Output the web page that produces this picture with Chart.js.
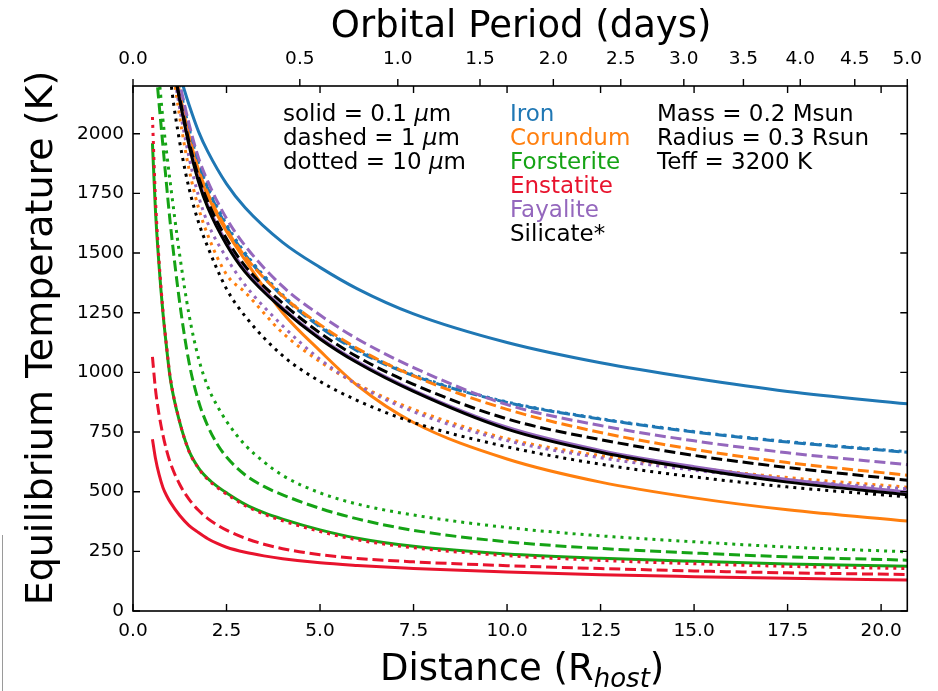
<!DOCTYPE html>
<html><head><meta charset="utf-8">
<script src="https://cdn.jsdelivr.net/npm/chart.js@4.4.1/dist/chart.umd.min.js"></script>
<style>html,body{margin:0;padding:0;background:#fff;}canvas{display:block;}</style>
</head><body>
<canvas id="c" width="938" height="691"></canvas>
<script>
// ---- axis ticks ----
const distTicks = [0, 2.5, 5, 7.5, 10, 12.5, 15, 17.5, 20];
const tempTicks = [0, 250, 500, 750, 1000, 1250, 1500, 1750, 2000];
const periodTicks = [0, 0.5, 1, 1.5, 2, 2.5, 3, 3.5, 4, 4.5, 5];
const distMax = 20.7;      // distance (R_host) at right edge
const periodAtMax = 5.0;   // orbital period (days) at right edge
const tempMax = 2200;

// ---- distances (R_host) ----
const nearX = [0.52, 0.6, 0.7, 0.8, 0.9, 1, 1.25, 1.5, 1.75, 2, 2.25, 2.5, 3, 3.5, 4, 5, 6, 7.5, 10, 12.5, 15, 17.5, 20.7];
const forstDashX = [0.62, 0.7, 0.8, 0.9, 1, 1.25, 1.5, 1.75, 2, 2.25, 2.5, 3, 3.5, 4, 5, 6, 7.5, 10, 12.5, 15, 17.5, 20.7];
const forstDotX = [0.7, 0.8, 0.9, 1, 1.25, 1.5, 1.75, 2, 2.25, 2.5, 3, 3.5, 4, 5, 6, 7.5, 10, 12.5, 15, 17.5, 20.7];
const farX = [1.0, 1.1, 1.2, 1.3, 1.5, 1.75, 2, 2.5, 3, 4, 5, 6, 7.5, 10, 12.5, 15, 17.5, 20.7];

// ---- equilibrium temperatures (K) ----
const ironSolid   = [null, null, null, 2220, 2120, 2010, 1925, 1790, 1690, 1545, 1440, 1350, 1245, 1125, 1040, 975, 920, 868];
const ironDashed  = [null, null, 2240, 2160, 2020, 1875, 1770, 1612, 1493, 1318, 1190, 1090, 986, 874, 804, 750, 708, 665];
const ironDotted  = [null, null, 2250, 2170, 2030, 1885, 1780, 1620, 1500, 1325, 1195, 1095, 990, 876, 806, 752, 710, 667];
const corSolid    = [null, null, 2210, 2130, 1980, 1840, 1740, 1590, 1470, 1250, 1090, 945, 790, 637, 540, 474, 424, 377];
const corDashed   = [null, 2280, 2200, 2125, 1990, 1850, 1750, 1600, 1485, 1320, 1200, 1100, 985, 845, 748, 677, 622, 569];
const corDotted   = [null, 2230, 2120, 2020, 1850, 1690, 1575, 1410, 1335, 1165, 1045, 950, 845, 722, 651, 600, 559, 519];
const forSolid    = [1960, 1680, 1440, 1250, 1100, 970, 790, 670, 600, 555, 522, 495, 447, 412, 385, 340, 305, 271, 239, 221, 208, 197, 188];
const forDashed   = [2260, 2120, 1950, 1780, 1620, 1290, 1040, 880, 775, 700, 645, 570, 522, 487, 430, 386, 338, 290, 262, 243, 227, 213];
const forDotted   = [2230, 2060, 1920, 1790, 1490, 1240, 1060, 940, 860, 795, 695, 625, 568, 495, 448, 402, 350, 315, 290, 268, 248];
const ensSolid    = [720, 640, 570, 518, 483, 455, 400, 358, 329, 303, 283, 267, 246, 231, 219, 202, 191, 178, 163, 152, 144, 137, 130];
const ensDashed   = [1065, 930, 820, 738, 672, 620, 530, 468, 422, 387, 361, 339, 305, 280, 261, 236, 220, 206, 190, 178, 168, 160, 153];
const ensDotted   = [2070, 1730, 1460, 1260, 1105, 975, 792, 668, 598, 551, 518, 490, 441, 406, 378, 333, 298, 265, 232, 212, 198, 187, 178];
const faySolid    = [null, 2280, 2190, 2110, 1960, 1810, 1700, 1545, 1428, 1270, 1145, 1045, 925, 770, 673, 605, 551, 499];
const fayDashed   = [null, null, 2250, 2175, 2040, 1900, 1800, 1645, 1530, 1360, 1240, 1140, 1020, 865, 777, 713, 663, 613];
const fayDotted   = [null, 2250, 2150, 2060, 1900, 1740, 1625, 1480, 1365, 1195, 1055, 948, 835, 714, 642, 590, 549, 512];
const silSolid    = [null, 2270, 2180, 2100, 1950, 1800, 1690, 1535, 1420, 1265, 1140, 1040, 920, 762, 665, 596, 540, 487];
const silDashed   = [null, 2270, 2185, 2110, 1965, 1820, 1715, 1560, 1445, 1290, 1165, 1065, 950, 805, 718, 652, 601, 548];
const silDotted   = [2230, 2110, 2010, 1920, 1770, 1630, 1525, 1350, 1235, 1070, 962, 882, 790, 688, 615, 562, 520, 478];

// ---- labels / colours ----
const materials = ['Iron', 'Corundum', 'Forsterite', 'Enstatite', 'Fayalite', 'Silicate*'];
const matColors = ['#1f77b4', '#ff7f0e', '#15a315', '#e8132d', '#9467bd', '#000000'];
const sizeNotes = ['solid = 0.1 ', 'dashed = 1 ', 'dotted = 10 '];
const starNotes = ['Mass = 0.2 Msun', 'Radius = 0.3 Rsun', 'Teff = 3200 K'];

const styles = { solid: [], dashed: [11, 4.8], dotted: [3, 5] };
const pts = (xs, ys) => xs.map((x, i) => ({ x: x, y: ys[i] }));

const seriesDefs = [
  [farX, ironSolid, 0, 'solid'], [farX, ironDashed, 0, 'dashed'], [farX, ironDotted, 0, 'dotted'],
  [farX, corSolid, 1, 'solid'], [farX, corDashed, 1, 'dashed'], [farX, corDotted, 1, 'dotted'],
  [nearX, forSolid, 2, 'solid'], [forstDashX, forDashed, 2, 'dashed'], [forstDotX, forDotted, 2, 'dotted'],
  [nearX, ensSolid, 3, 'solid'], [nearX, ensDashed, 3, 'dashed'], [nearX, ensDotted, 3, 'dotted'],
  [farX, faySolid, 4, 'solid'], [farX, fayDashed, 4, 'dashed'], [farX, fayDotted, 4, 'dotted'],
  [farX, silSolid, 5, 'solid'], [farX, silDashed, 5, 'dashed'], [farX, silDotted, 5, 'dotted']
];
const N = seriesDefs.length;
const datasets = seriesDefs.map((d, i) => ({
  label: materials[d[2]] + ' ' + d[3],
  data: pts(d[0], d[1]).filter(p => p.y !== null),
  borderColor: matColors[d[2]],
  borderWidth: 3,
  borderDash: styles[d[3]],
  borderCapStyle: 'butt',
  pointRadius: 0,
  fill: false,
  cubicInterpolationMode: 'monotone',
  order: N - i
}));

const FONT = 'DejaVu Sans';
const periodToDist = p => distMax * Math.pow(p / periodAtMax, 2 / 3);

function drawRich(ctx, segs, x, y, align) {
  let w = 0;
  segs.forEach(s => { ctx.font = s.f; w += ctx.measureText(s.t).width; });
  let cx = align === 'center' ? x - w / 2 : x;
  segs.forEach(s => {
    ctx.font = s.f; ctx.fillStyle = s.c || '#000';
    ctx.fillText(s.t, cx, y + (s.dy || 0));
    cx += ctx.measureText(s.t).width;
  });
}

const framePlugin = {
  id: 'frame',
  beforeDraw(chart) {
    const ctx = chart.ctx;
    ctx.save();
    ctx.fillStyle = '#fff';
    ctx.fillRect(0, 0, chart.width, chart.height);
    ctx.strokeStyle = '#9a9a9a';
    ctx.lineWidth = 1;
    ctx.beginPath(); ctx.moveTo(2.5, 535); ctx.lineTo(2.5, 691); ctx.stroke();
    ctx.restore();
  },
  afterDatasetsDraw(chart) {
    const { ctx, chartArea: a, scales } = chart;
    ctx.save();
    ctx.strokeStyle = '#000';
    ctx.lineWidth = 1.6;
    ctx.strokeRect(a.left, a.top, a.right - a.left, a.bottom - a.top);
    const tl = 7;
    ctx.lineWidth = 1.4;
    ctx.beginPath();
    scales.x.ticks.forEach(t => {
      const px = scales.x.getPixelForValue(t.value);
      ctx.moveTo(px, a.bottom); ctx.lineTo(px, a.bottom - tl);
      ctx.moveTo(px, a.top); ctx.lineTo(px, a.top + tl);
    });
    scales.y.ticks.forEach(t => {
      const py = scales.y.getPixelForValue(t.value);
      ctx.moveTo(a.left, py); ctx.lineTo(a.left + tl, py);
      ctx.moveTo(a.right, py); ctx.lineTo(a.right - tl, py);
    });
    scales.x2.ticks.forEach(t => {
      const px = scales.x2.getPixelForValue(t.value);
      ctx.moveTo(px, a.top); ctx.lineTo(px, a.top - tl);
    });
    ctx.stroke();

    // axis titles
    ctx.fillStyle = '#000';
    ctx.textBaseline = 'alphabetic';
    ctx.textAlign = 'left';
    const cxm = (a.left + a.right) / 2;
    drawRich(ctx, [{ t: 'Orbital Period (days)', f: '37px ' + FONT }], cxm + 1, 37, 'center');
    drawRich(ctx, [
      { t: 'Distance (R', f: '37px ' + FONT },
      { t: 'host', f: 'italic 26px ' + FONT, dy: 7 },
      { t: ')', f: '37px ' + FONT }
    ], cxm + 2, 680, 'center');
    ctx.save();
    ctx.translate(52, 338);
    ctx.rotate(-Math.PI / 2);
    drawRich(ctx, [{ t: 'Equilibrium Temperature (K)', f: '38px ' + FONT }], 0, 0, 'center');
    ctx.restore();

    // annotations
    const f = '23px ' + FONT, fi = 'italic 23px ' + FONT;
    sizeNotes.forEach((s, i) => {
      drawRich(ctx, [{ t: s, f: f }, { t: 'μ', f: fi }, { t: 'm', f: f }], 283, 121 + 24 * i, 'left');
    });
    materials.forEach((m, i) => {
      drawRich(ctx, [{ t: m, f: f, c: matColors[i] }], 510, 121 + 24 * i, 'left');
    });
    starNotes.forEach((s, i) => {
      drawRich(ctx, [{ t: s, f: f }], 657, 121 + 24 * i, 'left');
    });
    ctx.restore();
  }
};

new Chart(document.getElementById('c'), {
  type: 'line',
  data: { datasets: datasets },
  options: {
    responsive: false,
    animation: false,
    devicePixelRatio: 1,
    layout: { padding: { left: 0, right: 30.5, top: 0, bottom: 0 } },
    plugins: { legend: { display: false }, tooltip: { enabled: false } },
    scales: {
      x: {
        type: 'linear', position: 'bottom', min: 0, max: distMax,
        afterBuildTicks: s => { s.ticks = distTicks.map(v => ({ value: v })); },
        afterFit: s => { s.height = 80; },
        grid: { display: false, drawTicks: false },
        border: { display: false },
        ticks: { padding: 9, color: '#000', font: { family: FONT, size: 18.5 },
                 callback: v => Number(v).toFixed(1), maxRotation: 0, autoSkip: false }
      },
      x2: {
        type: 'linear', position: 'top', min: 0, max: distMax,
        afterBuildTicks: s => { s.ticks = periodTicks.map(p => ({ value: periodToDist(p) })); },
        afterFit: s => { s.height = 86; },
        grid: { display: false, drawTicks: false },
        border: { display: false },
        ticks: { padding: 16, color: '#000', font: { family: FONT, size: 18.5 }, maxRotation: 0, autoSkip: false,
                 callback: function (v, i) { return periodTicks[i].toFixed(1); } }
      },
      y: {
        type: 'linear', position: 'left', min: 0, max: tempMax,
        afterBuildTicks: s => { s.ticks = tempTicks.map(v => ({ value: v })); },
        afterFit: s => { s.width = 133; },
        grid: { display: false, drawTicks: false },
        border: { display: false },
        ticks: { padding: 9, color: '#000', font: { family: FONT, size: 18.5 }, callback: v => String(v) }
      }
    }
  },
  plugins: [framePlugin]
});
</script>
</body></html>
